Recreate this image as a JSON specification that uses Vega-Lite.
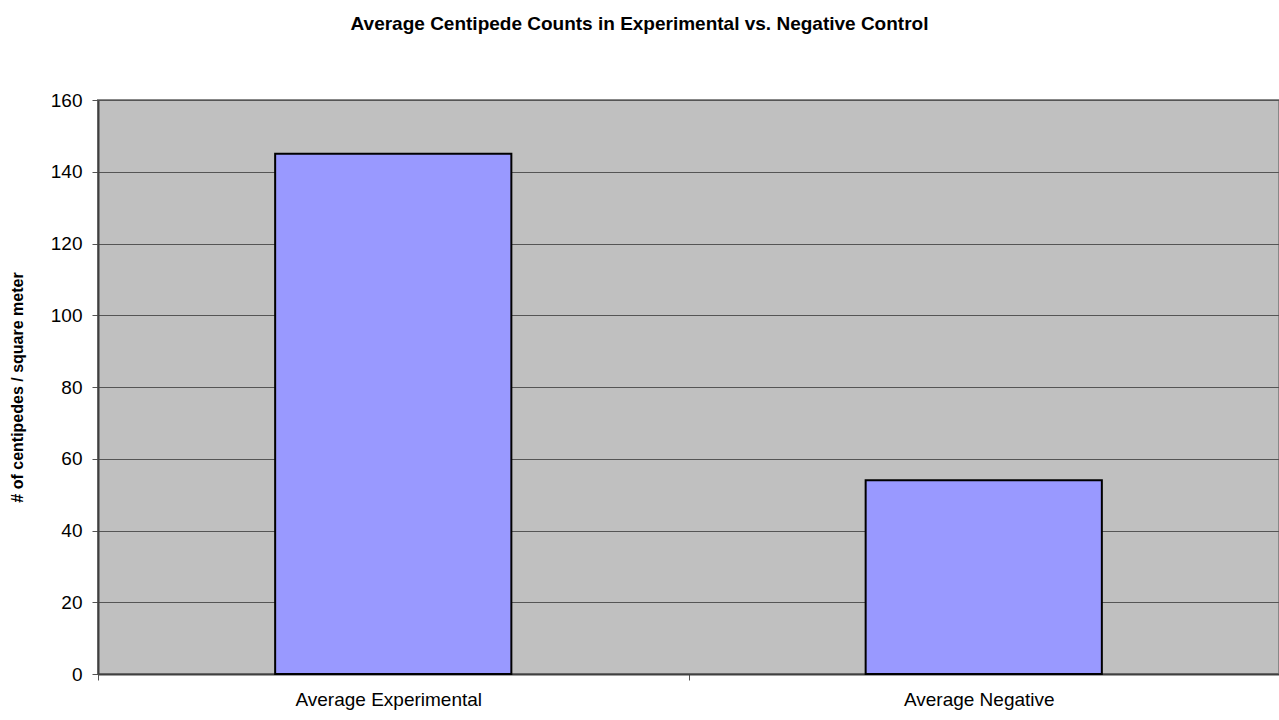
{
  "$schema": "https://vega.github.io/schema/vega-lite/v6.json",
  "autosize": {"type": "none"},
  "width": 1181,
  "height": 574,
  "padding": {"left": 98, "top": 100, "right": 0, "bottom": 46},
  "background": "white",
  "title": {
    "text": "Average Centipede Counts in Experimental vs. Negative Control",
    "font": "Liberation Sans",
    "fontSize": 19,
    "fontWeight": "bold",
    "color": "black",
    "anchor": "middle",
    "frame": "group",
    "dx": -49,
    "offset": 57
  },
  "data": {
    "values": [
      {"group": "Average Experimental", "count": 145},
      {"group": "Average Negative", "count": 54}
    ]
  },
  "config": {
    "view": {"fill": "#C0C0C0", "stroke": "#888888", "strokeWidth": 2},
    "font": "Liberation Sans"
  },
  "mark": {"type": "bar", "fill": "#9999FF", "stroke": "black", "strokeWidth": 2, "width": {"band": 0.4}},
  "encoding": {
    "x": {
      "field": "group",
      "type": "nominal",
      "sort": null,
      "scale": {"paddingInner": 0, "paddingOuter": 0},
      "axis": {
        "title": null,
        "labelAngle": 0,
        "labelFont": "Liberation Sans",
        "labelFontSize": 19,
        "labelColor": "black",
        "labelPadding": 10,
        "labelOffset": -5,
        "labelLimit": 500,
        "tickBand": "extent",
        "tickColor": "#555555",
        "tickSize": 6,
        "domainColor": "#404040",
        "domainWidth": 2,
        "grid": false
      }
    },
    "y": {
      "field": "count",
      "type": "quantitative",
      "scale": {"domain": [0, 160], "nice": false},
      "axis": {
        "title": "# of centipedes / square meter",
        "titleFont": "Liberation Sans",
        "titleFontSize": 16,
        "titleFontWeight": "bold",
        "titleColor": "black",
        "titlePadding": 25,
        "values": [0, 20, 40, 60, 80, 100, 120, 140, 160],
        "labelFont": "Liberation Sans",
        "labelFontSize": 19,
        "labelColor": "black",
        "labelPadding": 10,
        "tickColor": "#555555",
        "tickSize": 6,
        "domainColor": "#404040",
        "domainWidth": 2,
        "grid": true,
        "gridColor": "#555555",
        "gridWidth": 1
      }
    }
  }
}
